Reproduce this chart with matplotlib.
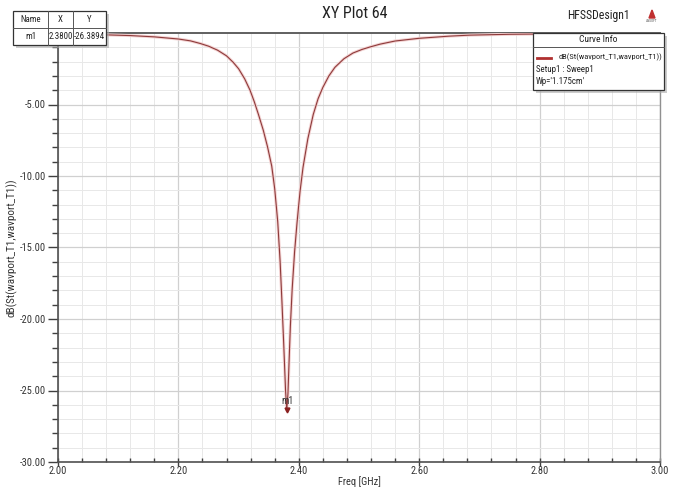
import matplotlib
matplotlib.use("Agg")
import matplotlib.pyplot as plt
from matplotlib.ticker import MultipleLocator, FixedLocator
from matplotlib.patches import Rectangle, Polygon

plt.rcParams['font.family'] = ['Liberation Sans Narrow', 'DejaVu Sans Condensed',
                               'Roboto Condensed', 'Liberation Sans', 'DejaVu Sans']

# Data (Freq [GHz], dB(S11))
freq = [2.000, 2.040, 2.080, 2.120, 2.160, 2.200, 2.220, 2.236, 2.250, 2.265,
        2.280, 2.291, 2.300, 2.310, 2.319, 2.326, 2.333, 2.341, 2.348, 2.355,
        2.360, 2.365, 2.369, 2.372, 2.375, 2.378, 2.380, 2.382, 2.384, 2.386,
        2.389, 2.393, 2.397, 2.402, 2.407, 2.415, 2.424, 2.432, 2.440, 2.450,
        2.460, 2.475, 2.490, 2.505, 2.518, 2.535, 2.560, 2.600, 2.650, 2.684,
        2.750, 2.800, 2.900, 3.000]
s11_db = [-0.08, -0.10, -0.13, -0.18, -0.27, -0.42, -0.55, -0.73, -0.92, -1.20,
          -1.60, -2.05, -2.50, -3.20, -4.00, -4.80, -5.70, -6.80, -7.95, -9.30,
          -10.90, -13.20, -16.00, -18.80, -21.80, -25.00, -26.39, -25.20, -22.80, -20.50,
          -17.90, -15.30, -13.30, -11.10, -9.40, -7.40, -5.70, -4.60, -3.80, -3.00,
          -2.40, -1.80, -1.40, -1.15, -0.98, -0.78, -0.56, -0.37, -0.22, -0.15,
          -0.09, -0.07, -0.04, -0.03]

marker_x = 2.3800
marker_y = -26.3894

xticks = [2.00, 2.20, 2.40, 2.60, 2.80, 3.00]
yticks = [-30.0, -25.0, -20.0, -15.0, -10.0, -5.0]

fig = plt.figure(figsize=(6.77, 4.92), dpi=100)
ax = fig.add_axes([58/677, 1-462/492, (660-58)/677, (462-33)/492])

ax.plot(freq, s11_db, color='#f3d2d2', lw=2.2, solid_joinstyle='round', zorder=3)
ax.plot(freq, s11_db, color='#8e3a3a', lw=0.8, solid_joinstyle='round', zorder=4)

ax.set_xlim(2.0, 3.0)
ax.set_ylim(-30, 0)
ax.xaxis.set_major_locator(FixedLocator(xticks))
ax.xaxis.set_minor_locator(MultipleLocator(0.04))
ax.yaxis.set_major_locator(FixedLocator(yticks))
ax.yaxis.set_minor_locator(MultipleLocator(1.0))
ax.set_xticklabels([f"{v:.2f}" for v in xticks])
ax.set_yticklabels([f"{v:.2f}" for v in yticks])

ax.grid(True, which='major', color='#d0d0d0', lw=0.9)
ax.grid(True, which='minor', color='#e8e8e8', lw=0.7)
ax.set_axisbelow(True)

for s in ['left', 'bottom']:
    ax.spines[s].set_color('#505050')
    ax.spines[s].set_linewidth(1.2)
ax.spines['top'].set_color('#606060')
ax.spines['top'].set_linewidth(1.4)
ax.spines['right'].set_color('#909090')
ax.spines['right'].set_linewidth(1.0)

ax.tick_params(axis='y', which='major', direction='out', length=7, width=1, color='#404040',
               labelsize=7.5, labelcolor='#333333', pad=2)
ax.tick_params(axis='y', which='minor', direction='out', length=4, width=1, color='#404040')
ax.tick_params(axis='x', which='major', direction='inout', length=6, width=1, color='#404040',
               labelsize=7.5, labelcolor='#333333', pad=0)
ax.tick_params(axis='x', which='minor', direction='in', length=3, width=1, color='#404040')

ax.set_xlabel('Freq [GHz]', fontsize=7.5, color='#333333', labelpad=0)
ax.set_ylabel('dB(St(wavport_T1,wavport_T1))', fontsize=8, color='#333333', labelpad=1)

# marker m1
ax.plot([marker_x], [marker_y], marker='v', color='#8a2020', ms=3.5, zorder=5)
ax.text(marker_x + 0.002, marker_y + 0.3, 'm1', fontsize=7, color='#333333',
        ha='center', va='bottom', zorder=5)

# title and design name
fig.text(355/677, 1-14/492, 'XY Plot 64', fontsize=11.5, ha='center', va='center', color='#222222')
fig.text(630/677, 1-15/492, 'HFSSDesign1', fontsize=8.5, ha='right', va='center', color='#222222')
logo = Polygon([[649/677, 1-18/492], [655/677, 1-18/492], [652/677, 1-10/492]],
               closed=True, transform=fig.transFigure, color='#c03030')
fig.patches.append(logo)
fig.text(652/677, 1-21/492, 'ANSOFT', fontsize=2.5, ha='center', va='center', color='#555555')

# marker table (figure overlay)
tb = fig.add_axes([0, 0, 1, 1], facecolor='none')
tb.set_xlim(0, 677)
tb.set_ylim(492, 0)
tb.axis('off')
tb.add_patch(Rectangle((16, 14), 93, 34, facecolor='#aaaaaa', edgecolor='none', alpha=0.6))
tb.add_patch(Rectangle((13, 11), 93, 34, facecolor='white', edgecolor='#333333', lw=0.9))
tb.plot([13, 106], [28, 28], color='#555555', lw=0.7)
tb.plot([48, 48], [11, 45], color='#555555', lw=0.7)
tb.plot([73, 73], [11, 45], color='#555555', lw=0.7)
fs_t = 6.4
tb.text(30.5, 19.5, 'Name', fontsize=fs_t, ha='center', va='center', color='#222222')
tb.text(60.5, 19.5, 'X', fontsize=fs_t, ha='center', va='center', color='#222222')
tb.text(89.5, 19.5, 'Y', fontsize=fs_t, ha='center', va='center', color='#222222')
tb.text(30.5, 36.5, 'm1', fontsize=fs_t, ha='center', va='center', color='#222222')
tb.text(60.5, 36.5, f"{marker_x:.4f}", fontsize=fs_t, ha='center', va='center', color='#222222')
tb.text(89.5, 36.5, f"{marker_y:.4f}", fontsize=fs_t, ha='center', va='center', color='#222222')

# Curve Info box
tb.add_patch(Rectangle((536, 36), 131, 57, facecolor='#aaaaaa', edgecolor='none', alpha=0.6))
tb.add_patch(Rectangle((533, 33), 131, 57, facecolor='white', edgecolor='#333333', lw=0.9))
tb.plot([533, 664], [47, 47], color='#555555', lw=0.7)
tb.text(598, 40, 'Curve Info', fontsize=6.8, ha='center', va='center', color='#222222')
tb.plot([537, 551], [58, 58], color='#b03030', lw=2)
tb.text(662, 57.5, 'dB(St(wavport_T1,wavport_T1))', fontsize=6.0, ha='right', va='center', color='#222222')
tb.text(536, 70, 'Setup1 : Sweep1', fontsize=6.4, ha='left', va='center', color='#222222')
tb.text(536, 82, "Wp='1.175cm'", fontsize=6.4, ha='left', va='center', color='#222222')

fig.savefig('out.png', dpi=100)
